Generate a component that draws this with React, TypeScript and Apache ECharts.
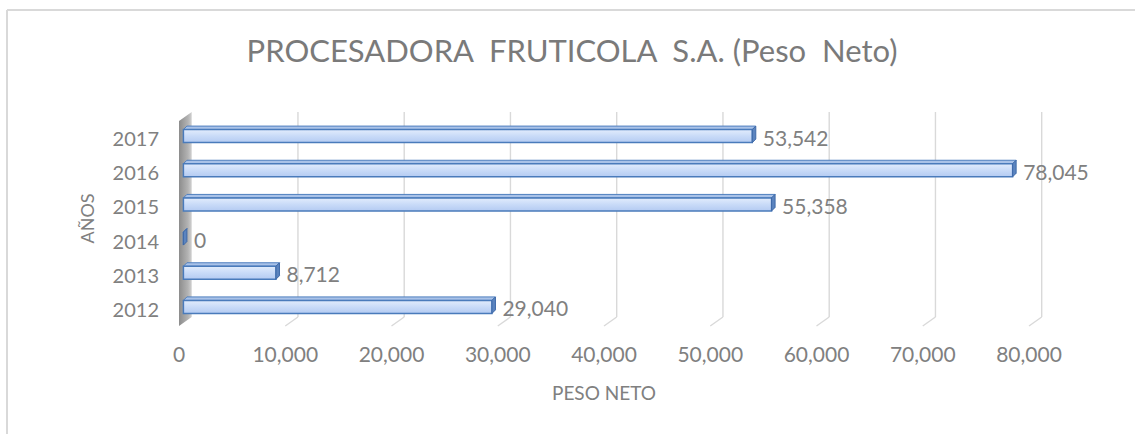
import React, { useEffect, useRef } from "react";
import * as echarts from "echarts";

const YEARS = ["2012", "2013", "2014", "2015", "2016", "2017"];
const PESO_NETO = [29040, 8712, 0, 55358, 78045, 53542];
const X_TICKS = [0, 10000, 20000, 30000, 40000, 50000, 60000, 70000, 80000];

const TITLE = "PROCESADORA  FRUTICOLA  S.A. (Peso  Neto)";
const FONT = "Lato";
const TEXT_COLOR = "#808080";

// 3D geometry (pixels)
const DEPTH_X = 12.7;
const DEPTH_Y = -9;
const BAR_SHIFT_X = 4.4;
const BAR_SHIFT_Y = -2;
const BAR_H = 13;
const BAR_D = 3.5;

const fmt = (v: number) => v.toLocaleString("en-US");

export default function App() {
  const ref = useRef<HTMLDivElement>(null);

  useEffect(() => {
    if (!ref.current) return;
    const chart = echarts.init(ref.current, null, { renderer: "svg" });

    const renderDecor = (params: any, api: any) => {
      const cs = params.coordSys;
      const v = api.value(0);
      const p = api.coord([v, 0]);
      const xf = p[0];
      const xb = xf + DEPTH_X;
      const top = cs.y;
      const bottom = cs.y + cs.height;
      const children: any[] = [];
      if (v === 0) {
        children.push({
          type: "polygon",
          shape: {
            points: [
              [xf, top],
              [xb, top + DEPTH_Y],
              [xb, bottom + DEPTH_Y],
              [xf, bottom],
            ],
          },
          style: {
            fill: new echarts.graphic.LinearGradient(0, 0, 1, 0, [
              { offset: 0, color: "#8c8c8c" },
              { offset: 0.7, color: "#b3b3b3" },
              { offset: 1, color: "#d0d0d0" },
            ]),
          },
        });
      } else {
        children.push({
          type: "line",
          shape: { x1: xb, y1: top + DEPTH_Y, x2: xb, y2: bottom + DEPTH_Y },
          style: { stroke: "#d9d9d9", lineWidth: 1.4 },
        });
        children.push({
          type: "line",
          shape: { x1: xb, y1: bottom + DEPTH_Y, x2: xf, y2: bottom },
          style: { stroke: "#d9d9d9", lineWidth: 1.4 },
        });
      }
      return { type: "group", children };
    };

    const renderBar = (params: any, api: any) => {
      const v = api.value(0);
      const idx = api.value(1);
      const p0 = api.coord([0, idx]);
      const p1 = api.coord([v, idx]);
      const x0 = p0[0] + BAR_SHIFT_X;
      const x1 = p1[0] + BAR_SHIFT_X;
      const cy = p0[1] + BAR_SHIFT_Y;
      const top = cy - BAR_H / 2;
      const bottom = cy + BAR_H / 2;
      const d = BAR_D;
      const children: any[] = [
        {
          type: "polygon",
          shape: {
            points: [
              [x0, top],
              [x0 + d, top - d],
              [x1 + d, top - d],
              [x1, top],
            ],
          },
          style: { fill: "#a9c2e8", stroke: "#4f7fbf", lineWidth: 1 },
        },
        {
          type: "rect",
          shape: { x: x0, y: top, width: Math.max(x1 - x0, 0), height: BAR_H },
          style: {
            fill: new echarts.graphic.LinearGradient(0, 0, 0, 1, [
              { offset: 0, color: "#e2ecfc" },
              { offset: 0.5, color: "#c9dbf8" },
              { offset: 1, color: "#b4cbf2" },
            ]),
            stroke: "#4a7bbb",
            lineWidth: 1.5,
          },
        },
        {
          type: "polygon",
          shape: {
            points: [
              [x1, top],
              [x1 + d, top - d],
              [x1 + d, bottom - d],
              [x1, bottom],
            ],
          },
          style: { fill: "#5b84bf", stroke: "#3e69a8", lineWidth: 1 },
        },
        {
          type: "text",
          style: {
            x: x1 + d + 7,
            y: cy + 1,
            text: fmt(v),
            fill: TEXT_COLOR,
            fontSize: 21,
            fontFamily: FONT,
            verticalAlign: "middle",
            align: "left",
          },
        },
      ];
      return { type: "group", children };
    };

    chart.setOption({
      animation: false,
      backgroundColor: "#ffffff",
      title: {
        text: TITLE,
        left: 572,
        textAlign: "center",
        top: 34,
        padding: 0,
        textStyle: {
          fontFamily: FONT,
          fontSize: 31,
          fontWeight: "normal",
          color: "#7a7a7a",
        },
      },
      graphic: [
        {
          type: "line",
          shape: { x1: 7, y1: 10, x2: 1135, y2: 10 },
          style: { stroke: "#d9d9d9", lineWidth: 2 },
          silent: true,
        },
        {
          type: "line",
          shape: { x1: 7, y1: 10, x2: 7, y2: 434 },
          style: { stroke: "#d9d9d9", lineWidth: 2 },
          silent: true,
        },
      ],
      grid: { left: 179, top: 121, width: 850, height: 205 },
      xAxis: {
        type: "value",
        min: 0,
        max: 80000,
        interval: 10000,
        axisLine: { show: false },
        axisTick: { show: false },
        splitLine: { show: false },
        axisLabel: {
          formatter: (v: number) => fmt(v),
          color: TEXT_COLOR,
          fontSize: 21,
          fontFamily: FONT,
          margin: 17,
        },
        name: "PESO NETO",
        nameLocation: "middle",
        nameGap: 57,
        nameTextStyle: { color: TEXT_COLOR, fontSize: 19, fontFamily: FONT },
      },
      yAxis: {
        type: "category",
        data: YEARS,
        axisLine: { show: false },
        axisTick: { show: false },
        splitLine: { show: false },
        axisLabel: {
          color: TEXT_COLOR,
          fontSize: 20,
          fontFamily: FONT,
          margin: 20,
        },
        name: "AÑOS",
        nameLocation: "middle",
        nameRotate: 90,
        nameGap: 83,
        nameTextStyle: {
          color: TEXT_COLOR,
          fontSize: 18,
          fontFamily: FONT,
          padding: [0, 0, 0, 10],
        },
      },
      series: [
        {
          type: "custom",
          name: "decor",
          coordinateSystem: "cartesian2d",
          renderItem: renderDecor,
          data: X_TICKS.map((v) => [v, 0]),
          encode: { x: 0, y: 1 },
          z: 1,
          silent: true,
          clip: false,
        },
        {
          type: "custom",
          name: "Peso Neto",
          coordinateSystem: "cartesian2d",
          renderItem: renderBar,
          data: PESO_NETO.map((v, i) => [v, i]),
          encode: { x: 0, y: 1 },
          z: 2,
          clip: false,
        },
      ],
    });

    return () => chart.dispose();
  }, []);

  return (
    <div
      ref={ref}
      style={{ position: "absolute", left: 0, top: 0, width: 1135, height: 434 }}
    />
  );
}
